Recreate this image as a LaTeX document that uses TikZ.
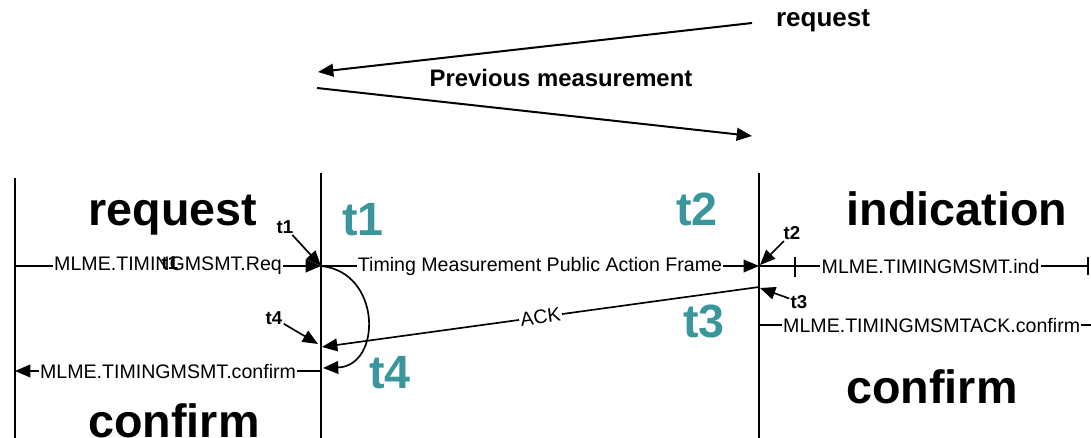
\documentclass[tikz,border=0pt]{standalone}
\usepackage{fontspec}
\setmainfont{Liberation Sans}
\usetikzlibrary{arrows.meta}
\definecolor{tealnum}{RGB}{58,150,155}
\begin{document}
\begin{tikzpicture}[x=0.75pt,y=-0.75pt,
  line width=1.25pt,
  tip/.style={-{Triangle[length=11.5pt,width=9.5pt]}},
  msg/.style={font=\fontsize{14.7}{17}\selectfont, fill=white, inner sep=1pt},
  prim/.style={font=\fontsize{35}{40}\selectfont\bfseries, anchor=base},
  stamp/.style={font=\fontsize{35}{40}\selectfont\bfseries, text=tealnum, anchor=base},
  tick/.style={font=\fontsize{14}{16}\selectfont\bfseries, inner sep=0.5pt},
  head/.style={font=\bfseries, anchor=base},
  ]
\useasboundingbox (0,0) rectangle (1091,438);

% lifelines
\coordinate (LA) at (15,178);  \coordinate (LB) at (15,438);
\coordinate (MA) at (321,173); \coordinate (MB) at (321,438);
\coordinate (RA) at (759,173); \coordinate (RB) at (759,438);
\draw (LA) -- (LB);
\draw (MA) -- (MB);
\draw (RA) -- (RB);

% previous measurement exchange
\coordinate (pr1) at (752,23);  \coordinate (pr2) at (318,72);
\coordinate (pr3) at (317,88);  \coordinate (pr4) at (752,136);
\draw[tip, line width=1.5pt] (pr1) -- (pr2);
\draw[tip, line width=1.5pt] (pr3) -- (pr4);
\node[head, font=\fontsize{19.5}{22}\selectfont\bfseries] (hreq) at (823,27) {request};
\node[head, font=\fontsize{17.9}{21}\selectfont\bfseries] (hprev) at (561,87) {Previous measurement};

% primitive names
\node[prim] (preq) at (173,226) {request};
\node[prim] (pcf1) at (174,437) {confirm};
\node[prim] (pind) at (957,225) {indication};
\node[prim] (pcf2) at (932,403) {confirm};

% timestamps
\node[stamp] (s1) at (363,235) {t1};
\node[stamp] (s2) at (697,225) {t2};
\node[stamp] (s3) at (704,337) {t3};
\node[stamp] (s4) at (390,388) {t4};

% message points
\coordinate (reqS) at (15,266);
\coordinate (t1p) at (321,266);
\coordinate (t2p) at (759,266);
\coordinate (indE) at (1089,266);
\coordinate (t3p) at (759,287);
\coordinate (t4p) at (322,347);
\coordinate (t3c) at (759,325);
\coordinate (ackE) at (1091,325);
\coordinate (t4c) at (321,371);
\coordinate (loopE) at (323,368);
\coordinate (cfE) at (15,371);
\coordinate (tkT) at (795,257);
\coordinate (tkB) at (795,277);

% messages
\draw[tip] (reqS) -- node[msg] {MLME.TIMINGMSMT.Req} (t1p);
\draw[tip] (t1p) -- node[msg] {Timing Measurement Public Action Frame} (t2p);
\draw[-{Bar[width=13pt,line width=1.8pt]}] (t2p) -- node[msg, pos=0.52] {MLME.TIMINGMSMT.ind} (indE);
\draw[line width=0.8pt] (tkT) -- (tkB);
\draw[tip] (t3p) -- node[msg, sloped] {ACK} (t4p);
\draw (t3c) -- node[msg, pos=0.52] {MLME.TIMINGMSMTACK.confirm} (ackE);
\draw[tip] (t1p) .. controls (382,272) and (382,366) .. (loopE);
\draw[tip] (t4c) -- node[msg] {MLME.TIMINGMSMT.confirm} (cfE);

% timestamp pointers
\node[tick] (k1) at (285,227) {t1};
\node[tick] (k4) at (274,318) {t4};
\node[tick] (k2) at (792,233) {t2};
\node[tick] (k3) at (799,302) {t3};
\node[tick] (k1b) at (170,263) {t1};
\coordinate (t4q) at (318,344);
\coordinate (t2q) at (760,265);
\coordinate (t3q) at (760,288);
\draw[tip] (k1) -- (t1p);
\draw[tip] (k4) -- (t4q);
\draw[tip] (k2) -- (t2q);
\draw[tip] (k3) -- (t3q);
\end{tikzpicture}
\end{document}
